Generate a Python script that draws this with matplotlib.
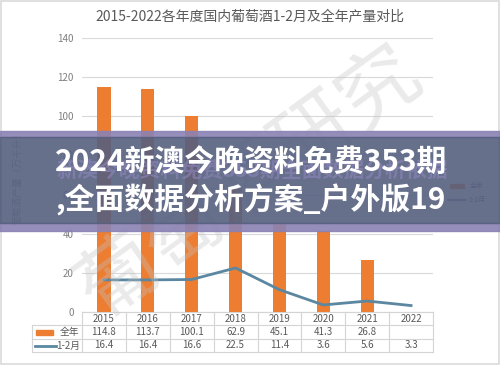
import matplotlib
matplotlib.use("Agg")
import matplotlib.pyplot as plt
from matplotlib.patches import Rectangle
from matplotlib.lines import Line2D
import numpy as np

plt.rcParams['font.family'] = ['Noto Sans CJK SC', 'DejaVu Sans']

years = ['2015', '2016', '2017', '2018', '2019', '2020', '2021', '2022']
full_year = [114.8, 113.7, 100.1, 62.9, 45.1, 41.3, 26.8, None]
jan_feb = [16.4, 16.4, 16.6, 22.5, 11.4, 3.6, 5.6, 3.3]
yticks = [0, 20, 40, 60, 80, 100, 120, 140]
title = '2015-2022各年度国内葡萄酒1-2月及全年产量对比'
ylabel = '葡萄酒产量（万千升）'
series_names = ['全年', '1-2月']
banner_lines = ['2024新澳今晚资料免费353期', ',全面数据分析方案_户外版19']

orange = '#ED7D31'
steel = '#5B87A0'
grey_txt = '#595959'
W, H = 500, 365

def fx(px):
    return px / W

def fy(py):
    return 1 - py / H

fig = plt.figure(figsize=(5, 3.65), dpi=100)
fig.patch.set_facecolor('white')

# main plot area
ax_l, ax_r, ax_t, ax_b = 82, 433, 38, 312
ax = fig.add_axes([fx(ax_l), fy(ax_b), fx(ax_r - ax_l), (ax_b - ax_t) / H])
x = np.arange(len(years))
bar_vals = [v if v is not None else 0 for v in full_year]
ax.bar(x, bar_vals, width=0.3, color=orange, zorder=3)
ax.plot(x, jan_feb, color=steel, lw=2, zorder=4)
ax.set_xlim(-0.5, len(years) - 0.5)
ax.set_ylim(0, 140)
ax.set_yticks(yticks)
ax.set_yticklabels([str(t) for t in yticks], fontsize=7, color='#7F7F7F')
ax.set_xticks([])
ax.tick_params(axis='y', length=0, pad=6)
ax.grid(axis='y', color='#D9D9D9', lw=0.8, zorder=0)
for s in ax.spines.values():
    s.set_visible(False)

fig.text(0.5, fy(16), title, ha='center', va='center', fontsize=10, color=grey_txt)
fig.text(fx(18), fy(176), ylabel, rotation=90, ha='center', va='center', fontsize=7, color='#8C8C8C')

# data table below the axes
tb_l, tb_t, row_h = 32, 312, 13.4
col_w = (ax_r - ax_l) / len(years)
line_c = '#D4D4D4'
rows_y = [tb_t + row_h * i for i in range(4)]
for i, yy in enumerate(rows_y):
    x0 = ax_l if i == 0 else tb_l
    fig.add_artist(Line2D([fx(x0), fx(ax_r)], [fy(yy), fy(yy)], color=line_c, lw=0.8))
for j in range(len(years) + 1):
    xx = ax_l + j * col_w
    fig.add_artist(Line2D([fx(xx), fx(xx)], [fy(tb_t), fy(rows_y[-1])], color=line_c, lw=0.8))
fig.add_artist(Line2D([fx(tb_l), fx(tb_l)], [fy(rows_y[1]), fy(rows_y[-1])], color=line_c, lw=0.8))

for j, yr in enumerate(years):
    cx = ax_l + (j + 0.5) * col_w
    fig.text(fx(cx), fy(rows_y[0] + row_h / 2), yr, ha='center', va='center', fontsize=7, color=grey_txt)
    if full_year[j] is not None:
        fig.text(fx(cx), fy(rows_y[1] + row_h / 2), f'{full_year[j]:.1f}', ha='center', va='center',
                 fontsize=7, color=grey_txt)
    fig.text(fx(cx), fy(rows_y[2] + row_h / 2), f'{jan_feb[j]:.1f}', ha='center', va='center',
             fontsize=7, color=grey_txt)

# legend keys inside the table
fig.add_artist(Rectangle((fx(36), fy(rows_y[1] + row_h / 2 + 2.5)), fx(17), 5 / H, color=orange))
fig.text(fx(60), fy(rows_y[1] + row_h / 2), series_names[0], ha='left', va='center', fontsize=7, color=grey_txt)
fig.add_artist(Line2D([fx(35), fx(56)], [fy(rows_y[2] + row_h / 2)] * 2, color=steel, lw=2))
fig.text(fx(56), fy(rows_y[2] + row_h / 2), series_names[1], ha='left', va='center', fontsize=7, color=grey_txt)

# right-hand legend (hidden under the banner)
fig.add_artist(Rectangle((fx(450), fy(188)), fx(14), 4 / H, color=orange))
fig.text(fx(470), fy(186), series_names[0], ha='left', va='center', fontsize=5, color=grey_txt)
fig.add_artist(Line2D([fx(448), fx(466)], [fy(200)] * 2, color=steel, lw=1.2))
fig.text(fx(468), fy(200), series_names[1], ha='left', va='center', fontsize=5, color=grey_txt)

# watermark
fig.text(0.50, 0.50, '葡萄酒研究', rotation=36, ha='center', va='center', fontsize=58,
         color='#C4C4C4', alpha=0.35, zorder=5)

# outer frame
fig.add_artist(Rectangle((0.002, 0.004), 0.996, 0.992, fill=False, ec='#DADADA', lw=1.2))

# banner overlay
fig.add_artist(Rectangle((0, fy(231)), 1, 8 / H, color='#8A82B4', alpha=0.9, zorder=10))
fig.add_artist(Rectangle((0, fy(137)), 1, 6 / H, color='#8A82B4', alpha=0.9, zorder=10))
fig.add_artist(Rectangle((0, fy(223)), 1, 86 / H, color='#56607F', alpha=0.9, zorder=10))
fig.text(fx(252), fy(170), '新澳今晚资料免费353期全面数据分析依据', ha='center', va='center',
         fontsize=15, fontweight='bold', color='#8E86BE', alpha=0.6, zorder=11)
fig.text(fx(251), fy(162), banner_lines[0], ha='center', va='center', fontsize=21.5,
         fontweight='bold', color='white', zorder=12)
fig.text(fx(251), fy(200), banner_lines[1], ha='center', va='center', fontsize=21.5,
         fontweight='bold', color='white', zorder=12)

fig.savefig('out.png', dpi=100)
